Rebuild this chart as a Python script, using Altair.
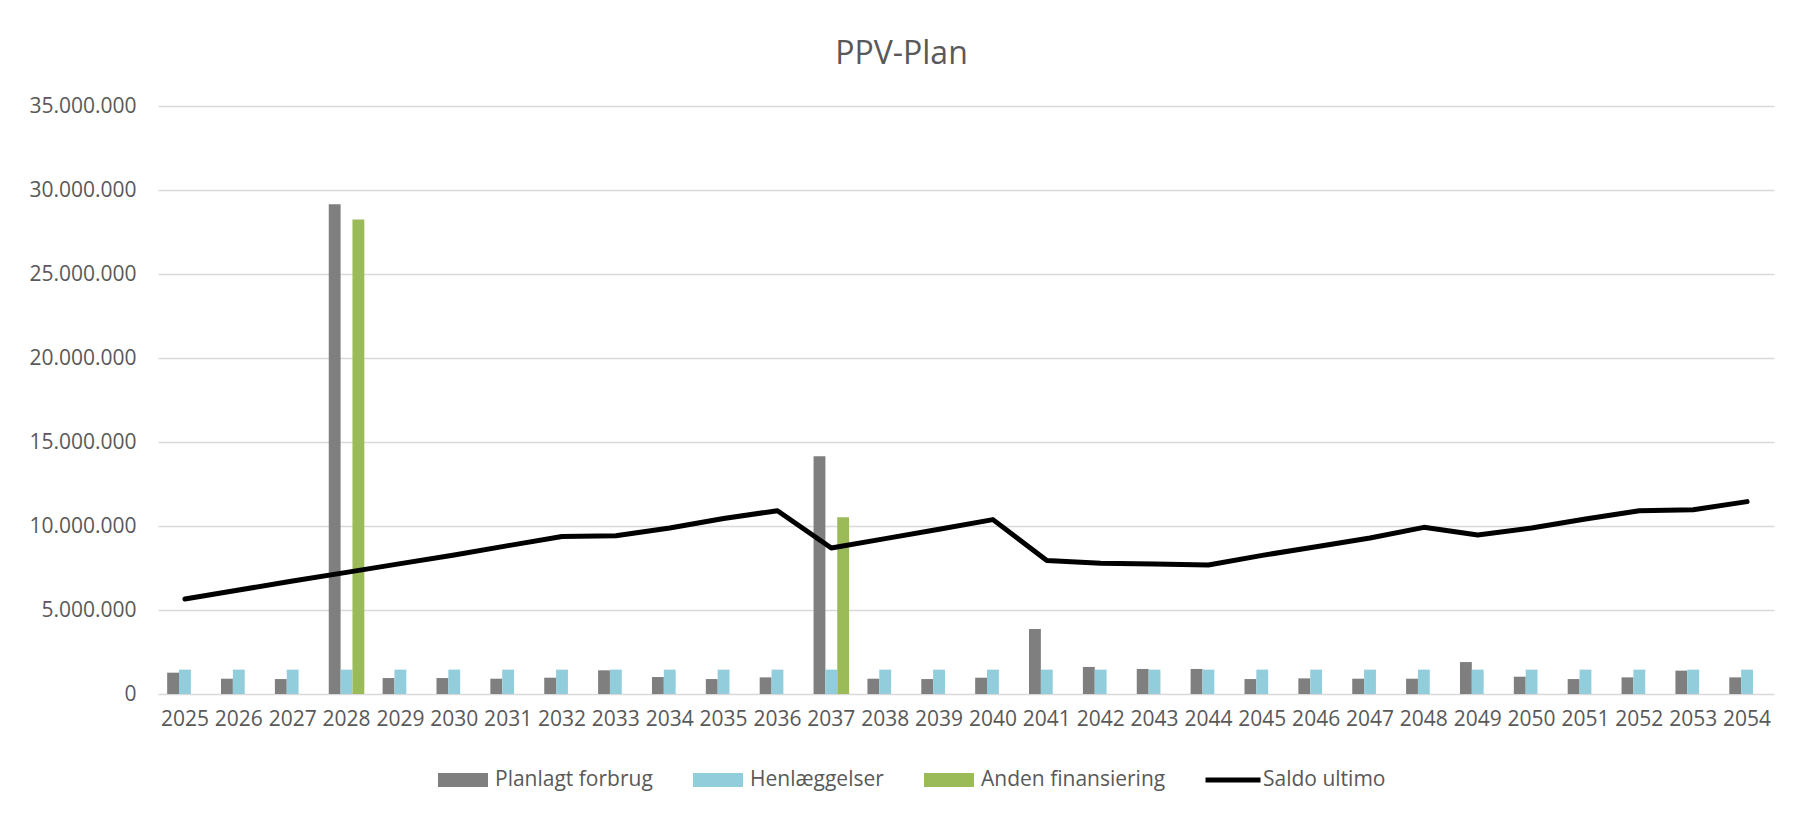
import altair as alt
import pandas as pd

years = ["2025", "2026", "2027", "2028", "2029", "2030", "2031", "2032", "2033", "2034",
         "2035", "2036", "2037", "2038", "2039", "2040", "2041", "2042", "2043", "2044",
         "2045", "2046", "2047", "2048", "2049", "2050", "2051", "2052", "2053", "2054"]

planlagt_forbrug = [1270000, 910000, 890000, 29150000, 950000, 950000, 910000, 970000, 1410000, 1010000,
                    890000, 990000, 14150000, 910000, 890000, 970000, 3870000, 1610000, 1490000, 1490000,
                    890000, 930000, 910000, 910000, 1900000, 1030000, 890000, 990000, 1390000, 990000]

henlaeggelser = [1450000, 1450000, 1450000, 1450000, 1450000, 1450000, 1450000, 1450000, 1450000, 1450000,
                 1450000, 1450000, 1450000, 1450000, 1450000, 1450000, 1450000, 1450000, 1450000, 1450000,
                 1450000, 1450000, 1450000, 1450000, 1450000, 1450000, 1450000, 1450000, 1450000, 1450000]

anden_finansiering = [0, 0, 0, 28250000, 0, 0, 0, 0, 0, 0,
                      0, 0, 10520000, 0, 0, 0, 0, 0, 0, 0,
                      0, 0, 0, 0, 0, 0, 0, 0, 0, 0]

saldo_ultimo = [5650000, 6190000, 6730000, 7240000, 7760000, 8270000, 8830000, 9380000, 9420000, 9880000,
                10450000, 10910000, 8690000, 9250000, 9810000, 10380000, 7940000, 7780000, 7740000, 7680000,
                8250000, 8770000, 9290000, 9920000, 9460000, 9880000, 10420000, 10910000, 10970000, 11450000]

bar_series = ["Planlagt forbrug", "Henlæggelser", "Anden finansiering"]
bar_colors = ["#7f7f7f", "#92cddc", "#9bbb59"]
line_series = ["Saldo ultimo"]
line_colors = ["#000000"]
y_ticks = [0, 5000000, 10000000, 15000000, 20000000, 25000000, 30000000, 35000000]

rows = []
for name, vals in zip(bar_series, [planlagt_forbrug, henlaeggelser, anden_finansiering]):
    for yr, v in zip(years, vals):
        rows.append({"year": yr, "serie": name, "value": v})
bars_df = pd.DataFrame(rows)
line_df = pd.DataFrame({"year": years, "value": saldo_ultimo, "serie": "Saldo ultimo"})

FONT = "Open Sans"
TXT = "#595959"

x_enc = alt.X("year:N", sort=years, title=None,
              scale=alt.Scale(paddingInner=0.34, paddingOuter=0.17),
              axis=alt.Axis(labelAngle=0, labelFontSize=21, labelColor=TXT, labelFont=FONT,
                            ticks=False, domain=False, grid=False, labelPadding=14))
y_enc = alt.Y("value:Q", title=None,
              scale=alt.Scale(domain=[0, 35000000], nice=False),
              axis=alt.Axis(values=y_ticks, labelFontSize=21, labelColor=TXT, labelFont=FONT,
                            ticks=False, domain=False, gridColor="#d9d9d9", gridWidth=1.3,
                            labelPadding=22,
                            labelExpr="replace(format(datum.value, ','), /,/g, '.')"))

bars = alt.Chart(bars_df).mark_bar().encode(
    x=x_enc,
    xOffset=alt.XOffset("serie:N", sort=bar_series, scale=alt.Scale(domain=bar_series, paddingInner=0, paddingOuter=0)),
    y=y_enc,
    color=alt.Color("serie:N", scale=alt.Scale(domain=bar_series, range=bar_colors),
                    legend=alt.Legend(orient="none", legendX=280, legendY=649, direction="horizontal",
                                      title=None, symbolType="M-1,-0.28H1V0.28H-1Z", symbolSize=2500,
                                      symbolStrokeWidth=0, labelFontSize=21, labelColor=TXT,
                                      labelFont=FONT, columnPadding=40, labelOffset=7, padding=0,
                                      labelLimit=0)),
)

line = alt.Chart(line_df).mark_line(strokeWidth=5, strokeCap="round", strokeJoin="round").encode(
    x=alt.X("year:N", sort=years),
    y=alt.Y("value:Q"),
    stroke=alt.Stroke("serie:N", scale=alt.Scale(domain=line_series, range=line_colors),
                      legend=alt.Legend(orient="none", legendX=1045, legendY=644, direction="horizontal",
                                        title=None, symbolType="stroke", symbolSize=3025,
                                        symbolStrokeWidth=5, labelFontSize=21, labelColor=TXT,
                                        labelFont=FONT, labelOffset=0, padding=0, labelLimit=0)),
)

chart = alt.layer(bars, line).resolve_scale(color="independent").properties(
    width=1616,
    height=588,
    autosize=alt.AutoSizeParams(type="none"),
    padding={"left": 150, "top": 98, "right": 12, "bottom": 100},
    title=alt.Title("PPV-Plan", fontSize=32, font=FONT, color=TXT, fontWeight="normal",
                    anchor="middle", frame="bounds", offset=24),
).configure(background="white", view=alt.ViewConfig(stroke=None))

chart.save("out.html", embed_options={"renderer": "svg", "actions": False})
